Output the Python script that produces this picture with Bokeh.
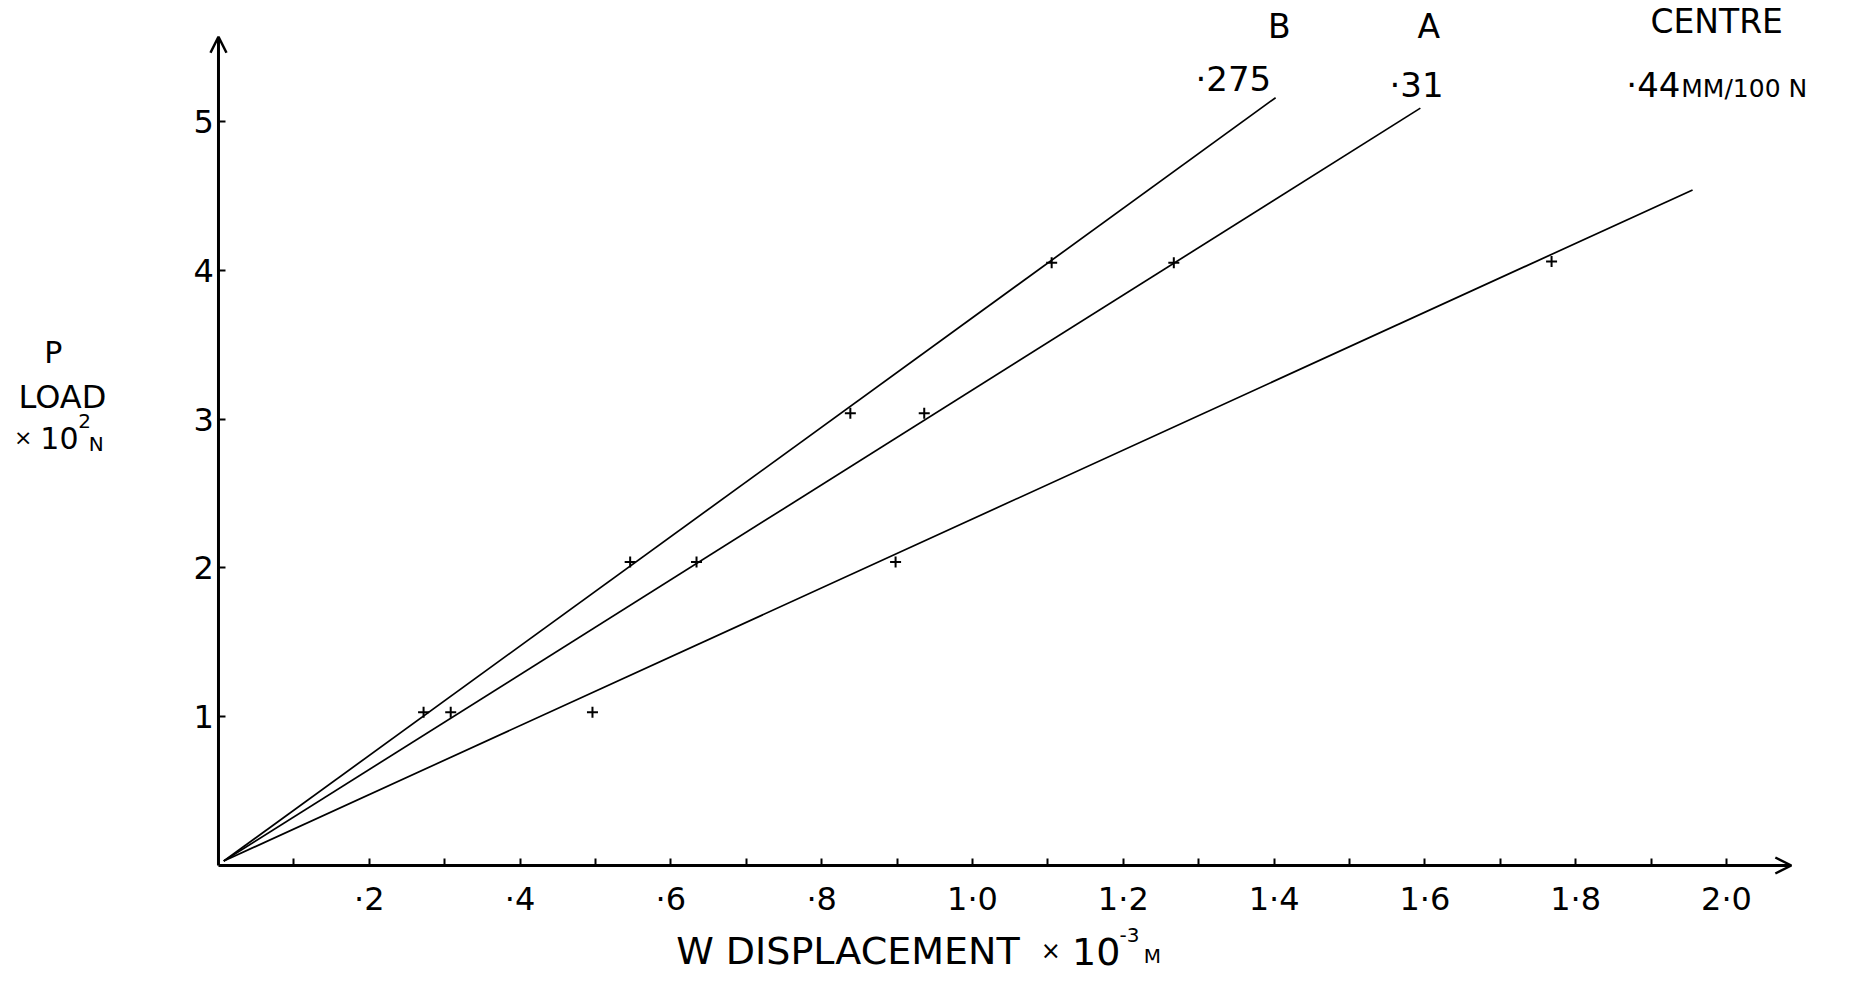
from bokeh.plotting import figure
from bokeh.models import Range1d, FixedTicker, Label, Arrow, OpenHead, CustomJSTickFormatter
from bokeh.embed import file_html
from bokeh.resources import INLINE

# ---------------- data ----------------
x_ticks = [0.2, 0.4, 0.6, 0.8, 1.0, 1.2, 1.4, 1.6, 1.8, 2.0]
x_tick_labels = ["·2", "·4", "·6", "·8", "1·0", "1·2", "1·4", "1·6", "1·8", "2·0"]
x_minor_ticks = [0.1, 0.3, 0.5, 0.7, 0.9, 1.1, 1.3, 1.5, 1.7, 1.9]
y_ticks = [1, 2, 3, 4, 5]
y_tick_labels = ["1", "2", "3", "4", "5"]

series_names = ["B", "A", "CENTRE"]
compliance = ["·275", "·31", "·44"]

b_x = [0.272, 0.546, 0.838, 1.105]
b_y = [1.03, 2.04, 3.04, 4.05]
a_x = [0.308, 0.634, 0.936, 1.267]
a_y = [1.03, 2.04, 3.04, 4.05]
c_x = [0.496, 0.898, 1.768]
c_y = [1.03, 2.04, 4.06]

fit_x_start = [0.007, 0.007, 0.007]
fit_y_start = [0.03, 0.03, 0.03]
fit_x_end = [1.402, 1.594, 1.955]
fit_y_end = [5.16, 5.09, 4.54]

# ---------------- figure ----------------
FONT = "DejaVu Sans"

p = figure(width=1844, height=973,
           x_range=Range1d(-0.2891, 2.1565), y_range=Range1d(-0.7258, 5.8132),
           x_axis_location="above", y_axis_location="right",
           output_backend="svg", toolbar_location=None,
           min_border_left=0, min_border_right=0,
           min_border_top=0, min_border_bottom=0)
p.outline_line_color = None
p.grid.visible = False
p.background_fill_color = "white"
p.border_fill_color = "white"

fmt_code = """
for (let i = 0; i < t.length; i++) { if (Math.abs(t[i] - tick) < 1e-6) return l[i]; }
return "";
"""
p.xaxis.ticker = FixedTicker(ticks=x_ticks, minor_ticks=x_minor_ticks)
p.xaxis.formatter = CustomJSTickFormatter(args=dict(t=x_ticks, l=x_tick_labels), code=fmt_code)
p.yaxis.ticker = FixedTicker(ticks=y_ticks, minor_ticks=[])
p.yaxis.formatter = CustomJSTickFormatter(args=dict(t=y_ticks, l=y_tick_labels), code=fmt_code)

for ax in (p.xaxis, p.yaxis):
    ax.fixed_location = 0
    ax.axis_line_color = None
    ax.major_tick_in = 0
    ax.major_tick_out = 7
    ax.minor_tick_in = 0
    ax.minor_tick_out = 7
    ax.major_tick_line_width = 2
    ax.minor_tick_line_width = 2
    ax.major_tick_line_color = "black"
    ax.minor_tick_line_color = "black"
    ax.major_label_text_font = FONT
    ax.major_label_text_color = "black"
    ax.major_label_text_font_size = "32px"

p.xaxis.major_label_standoff = -59
p.yaxis.major_label_standoff = -32

# axes with arrow heads
p.add_layout(Arrow(end=OpenHead(size=16, line_width=2.5, line_color="black"),
                   x_start=0, y_start=0, x_end=0, y_end=5.57,
                   line_width=3, line_color="black"))
p.add_layout(Arrow(end=OpenHead(size=16, line_width=2.5, line_color="black"),
                   x_start=0, y_start=0, x_end=2.086, y_end=0,
                   line_width=3, line_color="black"))

# fitted lines
for i in range(3):
    p.line([fit_x_start[i], fit_x_end[i]], [fit_y_start[i], fit_y_end[i]],
           line_color="black", line_width=1.7)

# data points
for xs, ys in ((b_x, b_y), (a_x, a_y), (c_x, c_y)):
    p.scatter(xs, ys, marker="cross", size=11, line_width=2, color="black")

# annotations
def lab(x, y, text, size, align="center"):
    p.add_layout(Label(x=x, y=y, text=text, text_font=FONT, text_font_size=size,
                       text_align=align, text_baseline="middle", text_color="black"))

lab(1.407, 5.64, series_names[0], "33px")
lab(1.605, 5.64, series_names[1], "33px")
lab(1.987, 5.67, series_names[2], "33px")
lab(1.346, 5.284, compliance[0], "34px")
lab(1.589, 5.242, compliance[1], "34px")
lab(1.903, 5.242, compliance[2], "34px")
lab(1.940, 5.225, "MM/100 N", "25px", align="left")

# y axis title
lab(-0.219, 3.45, "P", "30px")
lab(-0.207, 3.15, "LOAD", "32px")
lab(-0.259, 2.876, "×", "22px")
lab(-0.211, 2.876, "10", "30px")
lab(-0.186, 2.99, "2", "20px", align="left")
lab(-0.172, 2.836, "N", "20px", align="left")

# x axis title
lab(0.607, -0.575, "W  DISPLACEMENT", "38px", align="left")
lab(1.104, -0.575, "×", "24px")
lab(1.132, -0.575, "10", "38px", align="left")
lab(1.195, -0.47, "-3", "20px", align="left")
lab(1.227, -0.61, "M", "20px", align="left")

open("out.html", "w").write(file_html(p, INLINE))
